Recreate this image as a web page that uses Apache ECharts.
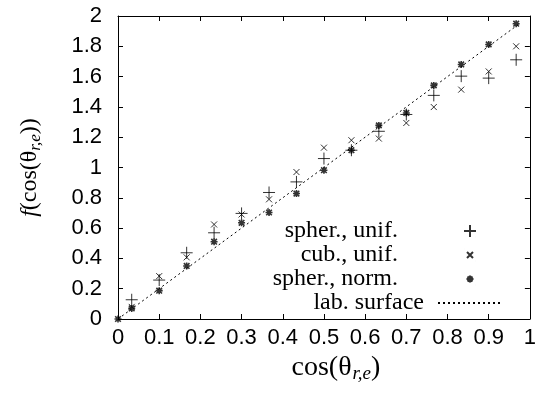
<!DOCTYPE html>
<html>
<head>
<meta charset="utf-8">
<script src="https://cdn.jsdelivr.net/npm/echarts@6/dist/echarts.min.js"></script>
<style>
  html, body { margin: 0; padding: 0; background: #fff; }
  #chart { width: 539px; height: 395px; }
</style>
</head>
<body>
<div id="chart"></div>
<script>
// cos(theta_{r,e}) bins
const cosBins = [0.0333, 0.1, 0.1667, 0.2333, 0.3, 0.3667, 0.4333, 0.5, 0.5667, 0.6333, 0.7, 0.7667, 0.8333, 0.9, 0.9667];
const spherUnif = [0.127, 0.257, 0.437, 0.569, 0.697, 0.835, 0.905, 1.059, 1.114, 1.239, 1.35, 1.476, 1.603, 1.59, 1.711];
const cubUnif = [0.08, 0.283, 0.407, 0.624, 0.69, 0.79, 0.97, 1.131, 1.18, 1.191, 1.294, 1.399, 1.514, 1.634, 1.80];
const normBins = [0].concat(cosBins);
const spherNorm = [0, 0.07, 0.187, 0.35, 0.51, 0.635, 0.703, 0.828, 0.982, 1.114, 1.278, 1.36, 1.542, 1.68, 1.812, 1.949];
const labX = [0, 0.975];
const labY = [0, 1.95];
const seriesNames = ["spher., unif.", "cub., unif.", "spher., norm.", "lab. surface"];

const PLUS = "path://M0,5L10,5M5,0L5,10";
const CROSS = "path://M0,0L10,10M10,0L0,10";
const STAR = "path://M0,5L10,5M5,0L5,10M1,1L9,9M9,1L1,9";

// legend keys in a 12x12 box (tiny corner strokes fix the box size)
const BOX = "M0,0L0.01,0M12,12L11.99,12";
const PLUS_KEY = "path://" + BOX + "M0,6L12,6M6,0L6,12";
const CROSS_KEY = "path://" + BOX + "M3,3L9,9M9,3L3,9";
const STAR_KEY = "path://" + BOX + "M2.5,6L9.5,6M6,2.5L6,9.5M3.5,3.5L8.5,8.5M8.5,3.5L3.5,8.5";

const pairs = (xs, ys) => xs.map((x, i) => [x, ys[i]]);

const chart = echarts.init(document.getElementById("chart"), null, { renderer: "canvas" });

const serif = "'Liberation Serif', 'DejaVu Serif', serif";
const sans = "'Liberation Sans', Arial, sans-serif";
const markStyle = { color: "rgba(0,0,0,0)", borderColor: "#000", borderWidth: 1 };

const nameRich = {
  it: { fontFamily: serif, fontSize: 24, fontStyle: "italic", color: "#000" },
  n: { fontFamily: serif, fontSize: 24, color: "#000" },
  sub: { fontFamily: serif, fontSize: 17, fontStyle: "italic", color: "#000", padding: [12, 0, 0, 0] },
  nx: { fontFamily: serif, fontSize: 28, color: "#000" },
  subx: { fontFamily: serif, fontSize: 19, fontStyle: "italic", color: "#000", padding: [13, 0, 0, 1] }
};

const tickAxis = {
  axisLine: { show: true, onZero: false, lineStyle: { color: "#000", width: 1 } },
  axisTick: { show: true, inside: true, length: 5, lineStyle: { color: "#000" } },
  splitLine: { show: false }
};

chart.setOption({
  animation: false,
  backgroundColor: "#fff",
  grid: { left: 118, right: 7, top: 16, bottom: 76 },
  // keys right of the text; text right-aligned near x=425
  legend: {
    right: 36,
    top: 219,
    padding: 0,
    orient: "vertical",
    align: "right",
    itemWidth: 64,
    itemHeight: 12,
    itemGap: 0,
    selectedMode: false,
    formatter: (name) => (name === seriesNames[3] ? name : "{t|" + name + "}{g|}"),
    textStyle: {
      fontFamily: serif, fontSize: 24, lineHeight: 24, color: "#000", padding: [0, 9, 0, 0],
      rich: {
        t: { fontFamily: serif, fontSize: 24, lineHeight: 24, color: "#000" },
        g: { width: 26 }
      }
    },
    data: [
      { name: seriesNames[0], icon: PLUS_KEY },
      { name: seriesNames[1], icon: CROSS_KEY },
      { name: seriesNames[2], icon: STAR_KEY },
      { name: seriesNames[3], itemStyle: { color: "rgba(0,0,0,0)", borderColor: "rgba(0,0,0,0)", opacity: 0 } }
    ]
  },
  xAxis: [
    Object.assign({
      type: "value", min: 0, max: 1, interval: 0.1, position: "bottom",
      axisLabel: { fontFamily: sans, fontSize: 22, color: "#000", margin: 8 },
      name: "{nx|cos(θ}{subx|r,e}{nx|)}",
      nameLocation: "middle",
      nameGap: 23,
      nameTextStyle: { rich: nameRich, padding: [0, 0, 0, 24] }
    }, tickAxis),
    Object.assign({
      type: "value", min: 0, max: 1, interval: 0.1, position: "top",
      axisLabel: { show: false }
    }, tickAxis)
  ],
  yAxis: [
    Object.assign({
      type: "value", min: 0, max: 2, interval: 0.2, position: "left",
      axisLabel: { fontFamily: sans, fontSize: 22, color: "#000", margin: 16 },
      name: "{it|f}{n|(cos(θ}{sub|r,e}{n|))}",
      nameLocation: "middle",
      nameGap: 74,
      nameTextStyle: { rich: nameRich }
    }, tickAxis),
    Object.assign({
      type: "value", min: 0, max: 2, interval: 0.2, position: "right",
      axisLabel: { show: false }
    }, tickAxis)
  ],
  series: [
    {
      name: seriesNames[0], type: "scatter", symbol: PLUS, symbolSize: 12,
      itemStyle: markStyle, emphasis: { disabled: true },
      data: pairs(cosBins, spherUnif)
    },
    {
      name: seriesNames[1], type: "scatter", symbol: CROSS, symbolSize: 6,
      itemStyle: markStyle, emphasis: { disabled: true },
      data: pairs(cosBins, cubUnif)
    },
    {
      name: seriesNames[2], type: "scatter", symbol: STAR, symbolSize: 7,
      itemStyle: { color: "rgba(0,0,0,0)", borderColor: "#000", borderWidth: 1.6 },
      emphasis: { disabled: true },
      data: pairs(normBins, spherNorm)
    },
    {
      name: seriesNames[3], type: "line", symbol: "none", z: 1,
      lineStyle: { color: "#000", width: 1, type: [2, 3] },
      itemStyle: { color: "#000" },
      emphasis: { disabled: true },
      data: pairs(labX, labY)
    }
  ]
});

window.addEventListener("resize", () => chart.resize());
</script>
</body>
</html>
